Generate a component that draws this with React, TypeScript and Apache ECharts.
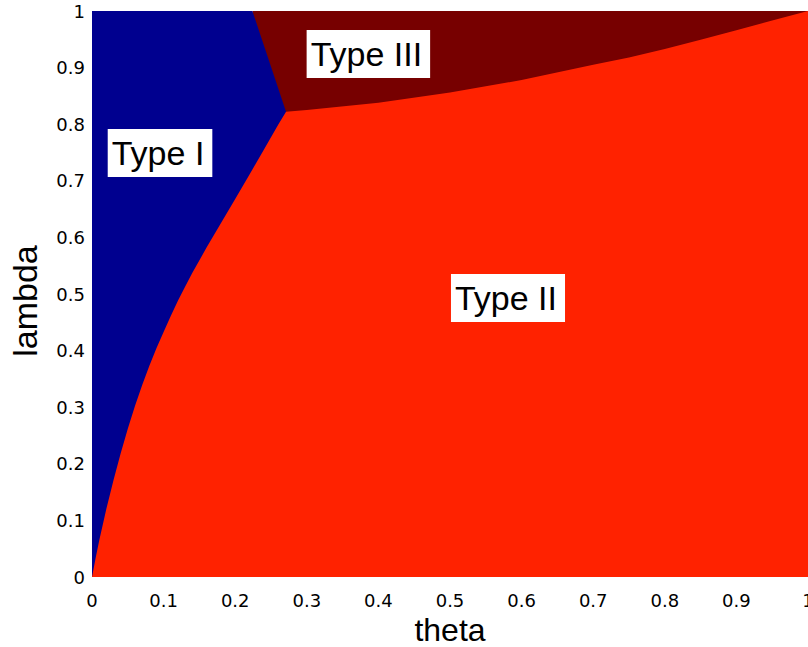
import React, { useEffect, useRef } from "react";
import * as echarts from "echarts";

// Boundary between Type I (left) and Type II (below): [theta, lambda]
const boundaryI_II: [number, number][] = [
  [0, 0], [0.005, 0.033], [0.01, 0.064], [0.02, 0.12], [0.03, 0.171],
  [0.04, 0.218], [0.05, 0.262], [0.06, 0.302], [0.07, 0.339], [0.08, 0.373],
  [0.09, 0.404], [0.1, 0.433], [0.11, 0.461], [0.12, 0.488], [0.13, 0.513],
  [0.14, 0.537], [0.16, 0.582], [0.18, 0.625], [0.2, 0.668], [0.22, 0.711],
  [0.24, 0.755], [0.26, 0.799], [0.271, 0.822],
];
// Boundary between Type III (above) and Type II (below)
const boundaryII_III: [number, number][] = [
  [0.271, 0.822], [0.3, 0.825], [0.4, 0.838], [0.5, 0.856], [0.6, 0.878],
  [0.7, 0.905], [0.75, 0.918], [0.8, 0.933], [0.85, 0.949], [0.9, 0.966],
  [0.95, 0.983], [1.0, 1.0],
];
// Boundary between Type I (left) and Type III (right)
const boundaryI_III: [number, number][] = [
  [0.224, 1.0], [0.271, 0.822],
];
const regionNames = ["Type I", "Type II", "Type III"];
const regionLabelX = [0.095, 0.581, 0.386];
const regionLabelY = [0.749, 0.493, 0.924];
const xTicks = [0, 0.1, 0.2, 0.3, 0.4, 0.5, 0.6, 0.7, 0.8, 0.9, 1];
const yTicks = [0, 0.1, 0.2, 0.3, 0.4, 0.5, 0.6, 0.7, 0.8, 0.9, 1];

const BLUE = "#00008f";
const RED = "#ff2200";
const DARK = "#770000";

export default function App() {
  const ref = useRef<HTMLDivElement>(null);
  useEffect(() => {
    if (!ref.current) return;
    const chart = echarts.init(ref.current, undefined, { renderer: "svg" });
    const typeIIIArea = [boundaryI_III[0], [1, 1]];
    const typeIArea = [[0, 1], ...boundaryI_III];
    const typeIIArea = [...boundaryI_II, ...boundaryII_III.slice(1)];
    const tickFont = { fontFamily: "DejaVu Sans", fontSize: 18, color: "#000" };
    const areaSeries = (data: number[][], color: string) => ({
      type: "line",
      data,
      symbol: "none",
      silent: true,
      lineStyle: { width: 0, color },
      areaStyle: { color, opacity: 1, origin: "start" },
    });
    chart.setOption({
      animation: false,
      grid: { left: 92, right: 0, top: 11, bottom: 70, outerBoundsMode: "none" },
      xAxis: {
        type: "value",
        min: xTicks[0],
        max: xTicks[xTicks.length - 1],
        interval: 0.1,
        name: "theta",
        nameLocation: "middle",
        nameGap: 34,
        nameTextStyle: { fontFamily: "Liberation Sans", fontSize: 32, lineHeight: 32, color: "#000" },
        axisLine: { show: false },
        axisTick: { show: false },
        splitLine: { show: false },
        axisLabel: { ...tickFont, margin: 14, showMaxLabel: true },
      },
      yAxis: {
        type: "value",
        min: yTicks[0],
        max: yTicks[yTicks.length - 1],
        interval: 0.1,
        name: "lambda",
        nameLocation: "middle",
        nameGap: 50,
        nameTextStyle: { fontFamily: "Liberation Sans", fontSize: 34, color: "#000", padding: [0, 14, 0, 0] },
        axisLine: { show: false },
        axisTick: { show: false },
        splitLine: { show: false },
        axisLabel: { ...tickFont, margin: 7 },
      },
      series: [
        areaSeries(typeIIIArea, DARK),
        areaSeries(typeIArea, BLUE),
        areaSeries(typeIIArea, RED),
        {
          type: "custom",
          silent: true,
          clip: false,
          z: 10,
          data: regionNames.map((n, i) => [regionLabelX[i], regionLabelY[i], i]),
          encode: { x: 0, y: 1 },
          renderItem: (params: any, api: any) => {
            const pt = api.coord([api.value(0), api.value(1)]);
            const name = regionNames[params.dataIndex];
            return {
              type: "text",
              x: pt[0],
              y: pt[1],
              style: {
                text: name,
                font: "34px 'Liberation Sans'",
                fill: "#000000",
                align: "center",
                verticalAlign: "middle",
                backgroundColor: "#ffffff",
                padding: [7, 8, 7, 4],
              },
            };
          },
        },
      ],
    });
    return () => chart.dispose();
  }, []);
  return (
    <div
      ref={ref}
      style={{ position: "fixed", left: 0, top: 0, width: 808, height: 647, background: "#fff" }}
    />
  );
}
